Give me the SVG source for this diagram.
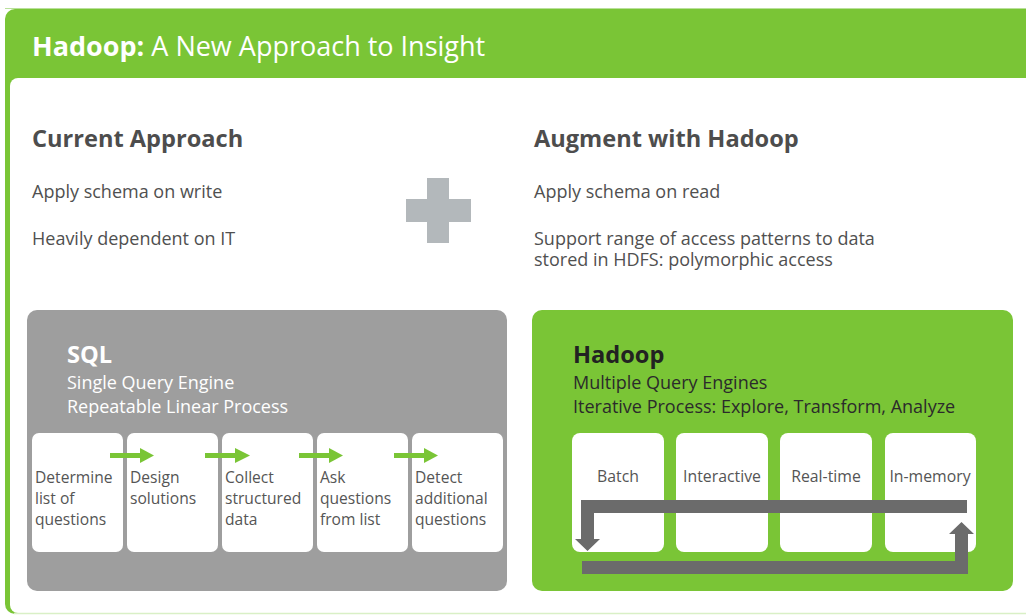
<svg xmlns="http://www.w3.org/2000/svg" width="1026" height="615" viewBox="0 0 1026 615">
<style>
text{font-family:"Open Sans","Noto Sans","Liberation Sans",sans-serif}
.h{font-size:23.6px;font-weight:bold;fill:#4d4d4d}
.b{font-size:18px;fill:#505050}
.st{font-size:15.6px;fill:#555}
.eng{font-size:15.8px;fill:#555;text-anchor:middle}
.card{fill:#fff}
.ga{stroke:#7ac536;stroke-width:5;fill:none}
.gah{fill:#7ac536}
.lp{fill:#6b6b6b}
</style>
<rect width="1026" height="615" fill="#fff"/>
<g id="frame">
<rect x="5" y="9" width="1040" height="605" rx="10" fill="#7ac536"/>
<line x1="5" y1="8.5" x2="1026" y2="8.5" stroke="#b9e09a" stroke-width="1"/>
<rect x="10" y="78" width="1030" height="535" rx="8" fill="#fff"/>
<line x1="14" y1="613.5" x2="1026" y2="613.5" stroke="#d9f0c6" stroke-width="1.5"/>
<text x="32" y="56" style="font-size:27px;fill:#fff"><tspan font-weight="bold">Hadoop:</tspan> A New Approach to Insight</text>
</g>
<g id="current">
<text x="32" y="147" class="h">Current Approach</text>
<text x="32" y="198" class="b">Apply schema on write</text>
<text x="32" y="245" class="b">Heavily dependent on IT</text>
</g>
<g id="plus">
<rect x="427" y="178" width="22" height="65" fill="#b3b8bb"/>
<rect x="406" y="199" width="65" height="23" fill="#b3b8bb"/>
</g>
<g id="augment">
<text x="534" y="147" class="h">Augment with Hadoop</text>
<text x="534" y="198" class="b">Apply schema on read</text>
<text x="534" y="245" class="b">Support range of access patterns to data<tspan x="534" dy="21">stored in HDFS: polymorphic access</tspan></text>
</g>
<g id="sql">
<rect x="27" y="310" width="480" height="281" rx="10" fill="#9e9e9e"/>
<text x="67" y="363" style="font-size:23.6px;font-weight:bold;fill:#fff">SQL</text>
<text x="67" y="389" style="font-size:18px;fill:#fff">Single Query Engine</text>
<text x="67" y="413" style="font-size:18px;fill:#fff">Repeatable Linear Process</text>
</g>
<g id="step1"><rect class="card" x="32" y="433" width="91" height="119" rx="7"/>
<text class="st" x="35" y="483">Determine</text><text class="st" x="35" y="504">list of</text><text class="st" x="35" y="525">questions</text></g>
<g id="step2"><rect class="card" x="127" y="433" width="91" height="119" rx="7"/>
<text class="st" x="130" y="483">Design</text><text class="st" x="130" y="504">solutions</text></g>
<g id="step3"><rect class="card" x="222" y="433" width="91" height="119" rx="7"/>
<text class="st" x="225" y="483">Collect</text><text class="st" x="225" y="504">structured</text><text class="st" x="225" y="525">data</text></g>
<g id="step4"><rect class="card" x="317" y="433" width="91" height="119" rx="7"/>
<text class="st" x="320" y="483">Ask</text><text class="st" x="320" y="504">questions</text><text class="st" x="320" y="525">from list</text></g>
<g id="step5"><rect class="card" x="412" y="433" width="91" height="119" rx="7"/>
<text class="st" x="415" y="483">Detect</text><text class="st" x="415" y="504">additional</text><text class="st" x="415" y="525">questions</text></g>
<g id="hadoop">
<rect x="532" y="310" width="481" height="281" rx="10" fill="#7ac536"/>
<text x="573" y="363" style="font-size:23.6px;font-weight:bold;fill:#222">Hadoop</text>
<text x="573" y="389" style="font-size:18px;fill:#2b2b2b">Multiple Query Engines</text>
<text x="573" y="413" style="font-size:18px;fill:#2b2b2b">Iterative Process: Explore, Transform, Analyze</text>
</g>
<g id="batch"><rect class="card" x="572" y="433" width="92" height="119" rx="8"/><text class="eng" x="618" y="482">Batch</text></g>
<g id="interactive"><rect class="card" x="676" y="433" width="92" height="119" rx="8"/><text class="eng" x="722" y="482">Interactive</text></g>
<g id="realtime"><rect class="card" x="780" y="433" width="92" height="119" rx="8"/><text class="eng" x="826" y="482">Real-time</text></g>
<g id="inmemory"><rect class="card" x="885" y="433" width="91" height="119" rx="8"/><text class="eng" x="930" y="482">In-memory</text></g>
<g id="connectors">
<line class="ga" x1="110" y1="455.5" x2="142" y2="455.5"/><polygon class="gah" points="140,448 154,455.5 140,463"/>
<line class="ga" x1="205" y1="455.5" x2="237" y2="455.5"/><polygon class="gah" points="235,448 250,455.5 235,463"/>
<line class="ga" x1="299" y1="455.5" x2="331" y2="455.5"/><polygon class="gah" points="329,448 343,455.5 329,463"/>
<line class="ga" x1="394" y1="455.5" x2="426" y2="455.5"/><polygon class="gah" points="424,448 438,455.5 424,463"/>
<polygon class="lp" points="967,500 967,513 594,513 594,539 600,539 587.5,551 575,539 581,539 581,500"/>
<polygon class="lp" points="582,574 582,561 955,561 955,534 949,534 961.5,522 974,534 968,534 968,574"/>
</g>
</svg>
